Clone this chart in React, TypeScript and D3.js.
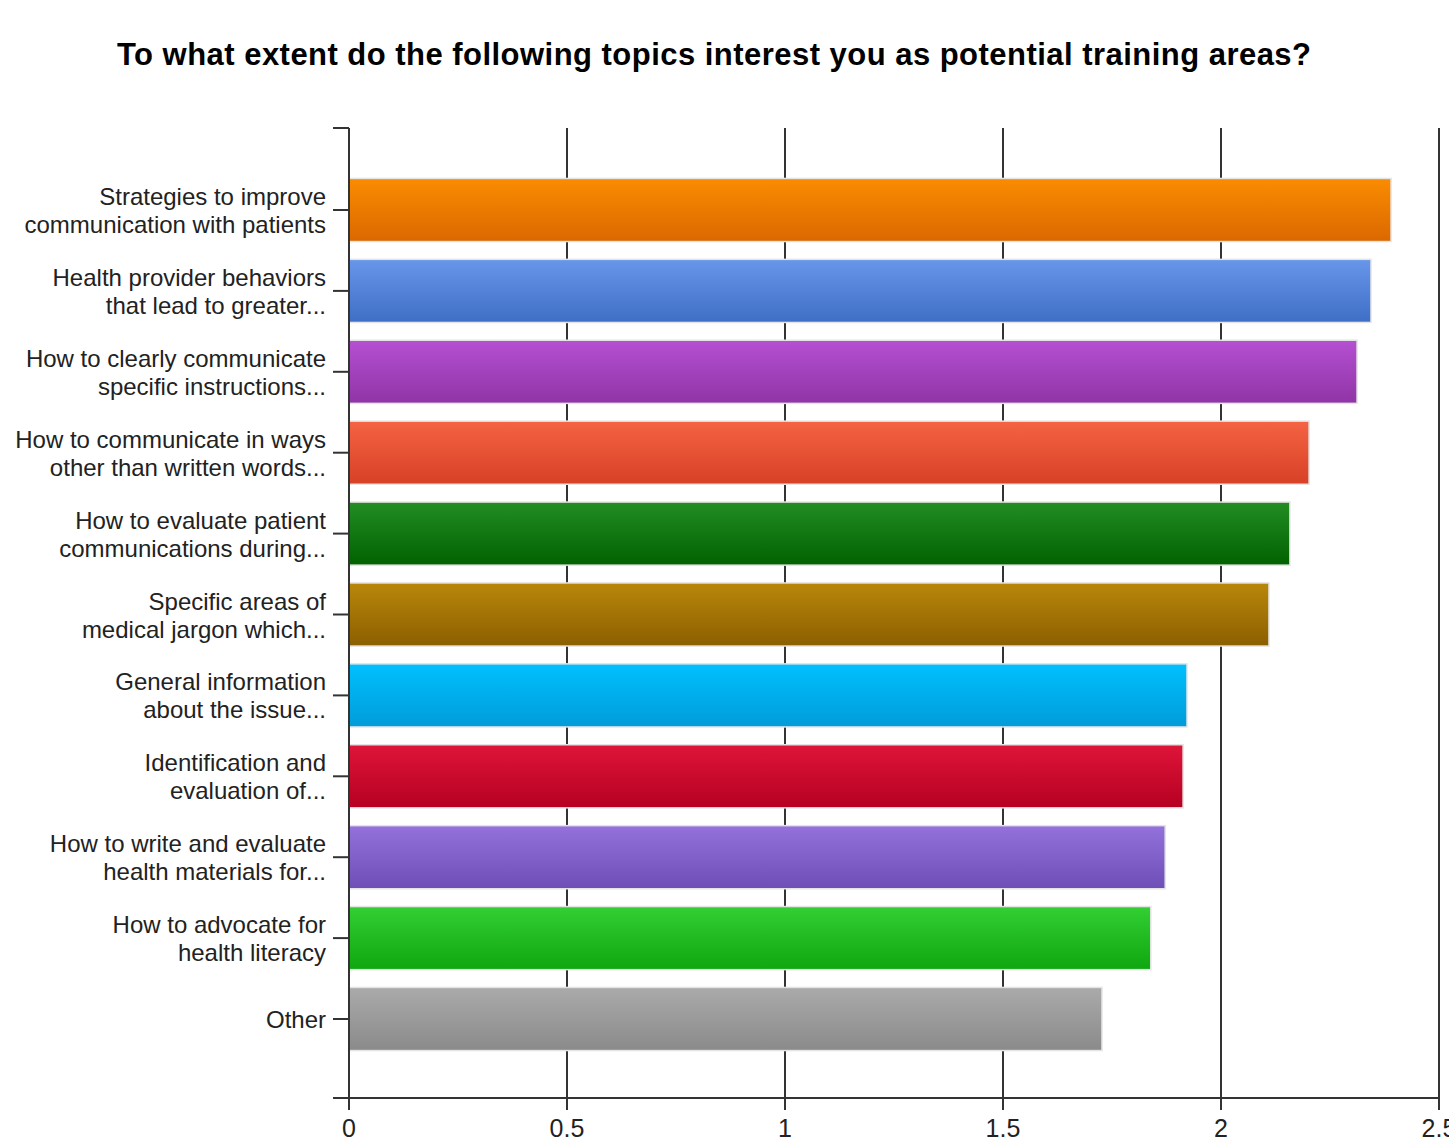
import React from "react";
import * as d3 from "d3";

const categories: string[][] = [
  ["Strategies to improve", "communication with patients"],
  ["Health provider behaviors", "that lead to greater..."],
  ["How to clearly communicate", "specific instructions..."],
  ["How to communicate in ways", "other than written words..."],
  ["How to evaluate patient", "communications during..."],
  ["Specific areas of", "medical jargon which..."],
  ["General information", "about the issue..."],
  ["Identification and", "evaluation of..."],
  ["How to write and evaluate", "health materials for..."],
  ["How to advocate for", "health literacy"],
  ["Other"],
];
const values: number[] = [2.39, 2.344, 2.312, 2.202, 2.158, 2.11, 1.922, 1.913, 1.872, 1.839, 1.727];
const colorsTop: string[] = ["#fa8c00", "#6796ea", "#b550d2", "#f46343", "#238d23", "#b9870b", "#00c0ff", "#de1539", "#9471dc", "#33cf33", "#aaaaaa"];
const colorsBottom: string[] = ["#db6800", "#3f6ec6", "#9034a6", "#d74126", "#006200", "#8c5f00", "#009cd9", "#b60022", "#6e4fb6", "#0fa70f", "#8a8a8a"];
const xTicks: number[] = [0, 0.5, 1, 1.5, 2, 2.5];
const title = "To what extent do the following topics interest you as potential training areas?";

export default function App() {
  const W = 1449, H = 1142;
  const left = 349, right = 1439, top = 128, bottom = 1098;
  const x = d3.scaleLinear().domain([0, 2.5]).range([left, right]);
  const y = d3.scalePoint<number>().domain(d3.range(categories.length)).range([210, 1019]);
  const barH = y.step() * 0.78;
  const font = "'Liberation Sans', Arial, sans-serif";
  return (
    <svg width={W} height={H} style={{ position: "absolute", left: 0, top: 0, background: "#fff" }}>
      <defs>
        {values.map((_, i) => (
          <linearGradient key={i} id={`g${i}`} x1="0" y1="0" x2="0" y2="1">
            <stop offset="0%" stopColor={colorsTop[i]} />
            <stop offset="100%" stopColor={colorsBottom[i]} />
          </linearGradient>
        ))}
      </defs>
      <rect x={0} y={0} width={W} height={H} fill="#fff" />
      <text x={714} y={65} textAnchor="middle" fontFamily={font} fontWeight="bold" fontSize={31} fill="#000" textLength={1194} lengthAdjust="spacing">{title}</text>
      {xTicks.map((t) => (
        <line key={t} x1={x(t)} x2={x(t)} y1={top} y2={bottom + 12} stroke="#333" strokeWidth={2} />
      ))}
      {values.map((v, i) => (
        <rect key={i} x={x(0)} y={y(i)! - barH / 2} width={x(v) - x(0)} height={barH} fill={`url(#g${i})`} stroke="#e4e4e4" strokeWidth={1.5} />
      ))}
      <line x1={left} x2={left} y1={top} y2={bottom} stroke="#333" strokeWidth={2} />
      <line x1={left - 16} x2={left} y1={top} y2={top} stroke="#333" strokeWidth={2} />
      <line x1={left - 16} x2={right} y1={bottom} y2={bottom} stroke="#333" strokeWidth={2} />
      {categories.map((lines, i) => {
        const cy = y(i)!;
        return (
          <g key={i}>
            <line x1={left - 16} x2={left} y1={cy} y2={cy} stroke="#333" strokeWidth={2} />
            {lines.map((l, j) => (
              <text key={j} x={326} y={cy + 9 + (j - (lines.length - 1) / 2) * 28} textAnchor="end" fontFamily={font} fontSize={24} fill="#222">{l}</text>
            ))}
          </g>
        );
      })}
      {xTicks.map((t) => (
        <text key={t} x={x(t)} y={1137} textAnchor="middle" fontFamily={font} fontSize={25} fill="#222">{String(t)}</text>
      ))}
    </svg>
  );
}
